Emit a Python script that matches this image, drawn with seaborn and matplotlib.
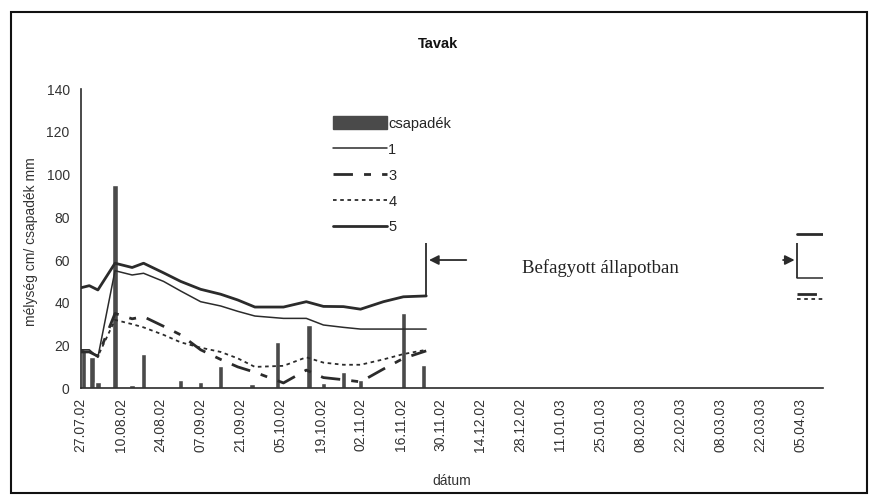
import pandas as pd
import numpy as np
import seaborn as sns
import matplotlib
matplotlib.use('Agg')
import matplotlib.pyplot as plt
import matplotlib.dates as mdates
from matplotlib.patches import Patch, Rectangle
from matplotlib.lines import Line2D

# measurement dates (autumn, before freezing) and spring
autumn_dates = ['2002-07-27', '2002-07-30', '2002-08-02', '2002-08-08', '2002-08-14',
                '2002-08-18', '2002-08-25', '2002-08-31', '2002-09-07', '2002-09-14',
                '2002-09-20', '2002-09-26', '2002-10-06', '2002-10-14', '2002-10-20',
                '2002-10-27', '2002-11-02', '2002-11-10', '2002-11-17', '2002-11-25']
spring_dates = ['2003-04-04', '2003-04-13']

s1_autumn = [18, 18, 14.5, 55, 53, 53.8, 50, 45.5, 40.5, 38.5,
             36, 33.8, 32.7, 32.7, 29.6, 28.5, 27.7, 27.7, 27.7, 27.7]
s3_autumn = [17, 17, 15, 35, 32.5, 33.5, 29, 25, 18, 13.5,
             10, 7.5, 2.5, 8.5, 5, 4, 3, 9, 14, 17.5]
s4_autumn = [17.5, 17, 15, 32, 30, 28.5, 25, 21.5, 19, 17,
             14, 10, 10.5, 14.5, 12, 11, 11, 13.5, 16, 18]
s5_autumn = [47, 48, 46, 58.5, 56.5, 58.5, 54, 50, 46.3, 44,
             41.3, 38, 38, 40.5, 38.3, 38.2, 37, 40.5, 42.8, 43.2]
s1_spring = [51.4, 51.4]
s3_spring = [44, 44]
s4_spring = [41.8, 41.8]
s5_spring = [72, 72]

# precipitation (csapadék, mm)
rain_dates = ['2002-07-28', '2002-07-31', '2002-08-02', '2002-08-08', '2002-08-14',
              '2002-08-18', '2002-08-31', '2002-09-07', '2002-09-14', '2002-09-25',
              '2002-10-04', '2002-10-15', '2002-10-20', '2002-10-27', '2002-11-02',
              '2002-11-17', '2002-11-24']
rain_mm = [18, 14.5, 3, 95, 1.5, 16, 4, 3, 10.5, 2, 21.5, 29.5, 2.5, 7.5, 4, 35, 11]

# ice (befagyott) markers
ice_dates = ['2002-11-25', '2003-04-04']
ice_low = [43.2, 51.4]
ice_high = [68, 67.8]
arrow_y = 60

sns.set_style('white')
plt.rcParams['font.family'] = ['Liberation Sans', 'DejaVu Sans']

fig = plt.figure(figsize=(8.71, 4.95), dpi=100)
ax = fig.add_axes([0.0927, 0.2156, 0.8523, 0.6046])

dark = '#2b2b2b'
grey = '#333333'
ad = pd.to_datetime(autumn_dates)
sd = pd.to_datetime(spring_dates)

ax.bar(pd.to_datetime(rain_dates), rain_mm, width=1.9, color='#4a4a4a', zorder=2)

styles = {
    '1': dict(lw=1.1, dashes=None),
    '3': dict(lw=2.0, dashes=(7, 4, 2.5, 4)),
    '4': dict(lw=1.3, dashes=(2, 2)),
    '5': dict(lw=2.0, dashes=None),
}
series = {'1': (s1_autumn, s1_spring), '3': (s3_autumn, s3_spring),
          '4': (s4_autumn, s4_spring), '5': (s5_autumn, s5_spring)}
for name, (va, vs) in series.items():
    st = styles[name]
    for d, v in ((ad, va), (sd, vs)):
        sns.lineplot(x=d, y=v, ax=ax, color=dark, lw=st['lw'], zorder=3)
        if st['dashes'] is not None:
            ax.lines[-1].set_dashes(st['dashes'])

idates = pd.to_datetime(ice_dates)
ax.vlines(idates, ice_low, ice_high, color=dark, lw=1.3, zorder=3)
ax.annotate('', xy=(idates[0], arrow_y), xytext=(pd.Timestamp('2002-12-10'), arrow_y),
            arrowprops=dict(arrowstyle='-|>', color=dark, lw=1.3, mutation_scale=14))
ax.annotate('', xy=(idates[1], arrow_y), xytext=(pd.Timestamp('2003-03-29'), arrow_y),
            arrowprops=dict(arrowstyle='-|>', color=dark, lw=1.3, mutation_scale=14))
ax.text(0.594, 0.402, 'Befagyott állapotban', transform=ax.transAxes,
        family='Liberation Serif', fontsize=13.5, color='#222222', va='center')

ax.set_xlim(pd.Timestamp('2002-07-27'), pd.Timestamp('2003-04-13'))
ax.set_ylim(0, 140)
ax.set_yticks(np.arange(0, 141, 20))
ax.set_xticks(pd.date_range('2002-07-27', '2003-04-05', freq='14D'))
ax.xaxis.set_major_formatter(mdates.DateFormatter('%d.%m.%y'))
ax.tick_params(axis='x', rotation=90, labelsize=10, colors=grey,
               length=4, width=1, direction='out', pad=3)
ax.tick_params(axis='y', labelsize=10, colors=grey, length=4, width=1,
               direction='out', pad=4)
for sp in ['top', 'right']:
    ax.spines[sp].set_visible(False)
for sp in ['left', 'bottom']:
    ax.spines[sp].set_color(dark)
    ax.spines[sp].set_linewidth(1.2)

ax.set_ylabel('mélység cm/ csapadék mm', fontsize=10, color=grey)
ax.yaxis.set_label_coords(-0.058, 0.49)
ax.set_xlabel('dátum', fontsize=10, color=grey)
ax.xaxis.set_label_coords(0.5, -0.286)

handles = [Patch(color='#4a4a4a'),
           Line2D([], [], color=dark, lw=1.1),
           Line2D([], [], color=dark, lw=2.0, dashes=(7, 4, 2.5, 4)),
           Line2D([], [], color=dark, lw=1.3, dashes=(2, 2)),
           Line2D([], [], color=dark, lw=2.0)]
fig.legend(handles, ['csapadék', '1', '3', '4', '5'], loc='upper left',
           bbox_to_anchor=(0.382, 0.765), frameon=False, fontsize=10.5,
           handlelength=3.7, handletextpad=0.1, labelspacing=0.78,
           borderpad=0, borderaxespad=0, handleheight=1.0)

fig.text(0.503, 0.911, 'Tavak', ha='center', va='center', fontsize=10.5,
         fontweight='bold', color='#111111')

fig.add_artist(Rectangle((0.0126, 0.004), 0.9828, 0.972, transform=fig.transFigure,
                         fill=False, edgecolor='#111111', lw=1.5))

fig.savefig('out.png', dpi=100)
